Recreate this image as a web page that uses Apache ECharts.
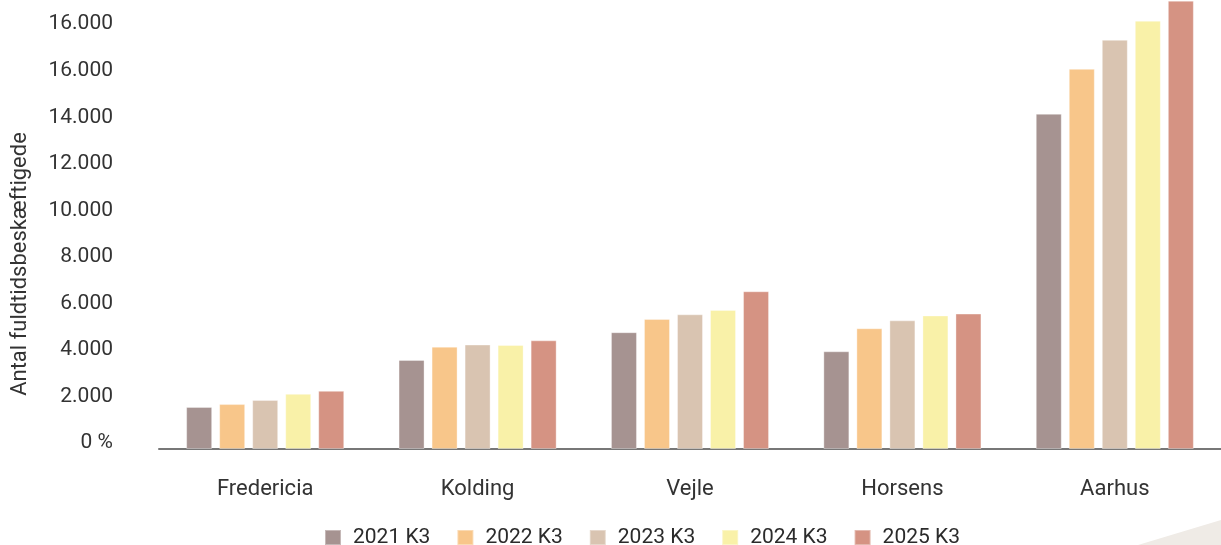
<!DOCTYPE html>
<html>
<head>
<meta charset="utf-8">
<script src="https://cdn.jsdelivr.net/npm/echarts@6/dist/echarts.min.js"></script>
<style>
  html, body { margin: 0; padding: 0; background: #fff; }
  #chart { width: 1221px; height: 545px; }
</style>
</head>
<body>
<div id="chart"></div>
<script>
// data
var byer = ['Fredericia', 'Kolding', 'Vejle', 'Horsens', 'Aarhus'];
var aar = ['2021 K3', '2022 K3', '2023 K3', '2024 K3', '2025 K3'];
var v2021 = [1810, 3830, 5020, 4200, 14410];
var v2022 = [1930, 4400, 5590, 5190, 16340];
var v2023 = [2110, 4490, 5790, 5530, 17590];
var v2024 = [2370, 4470, 5980, 5740, 18410];
var v2025 = [2500, 4670, 6780, 5820, 19270];
var yLabels = ['0 %', '2.000', '4.000', '6.000', '8.000', '10.000', '12.000', '14.000', '16.000', '16.000'];

var farver = ['#a69391', '#f8c68a', '#d9c4b1', '#f9f1a8', '#d59383'];
var serier = [v2021, v2022, v2023, v2024, v2025];

var chart = echarts.init(document.getElementById('chart'));

var font = 'Roboto';

option = {
    animation: false,
    color: farver,
    grid: {
        left: 159,
        right: -11,
        top: 0,
        bottom: 96
    },
    legend: {
        left: 319,
        top: 522,
        itemWidth: 16,
        itemHeight: 15,
        itemGap: 26,
        icon: 'rect',
        textStyle: { fontFamily: font, fontSize: 21, color: '#2b2b2b', padding: [0, 0, 0, 7] },
        data: aar
    },
    xAxis: {
        type: 'category',
        data: byer,
        axisLine: { lineStyle: { color: '#777', width: 2 } },
        axisTick: { show: false },
        axisLabel: { fontFamily: font, fontSize: 22, color: '#333', margin: 29 }
    },
    yAxis: {
        type: 'value',
        min: 0,
        max: 19300,
        interval: 2000,
        splitLine: { show: false },
        axisLine: { show: false },
        axisTick: { show: false },
        axisLabel: {
            fontFamily: font,
            fontSize: 21,
            color: '#333',
            margin: 46,
            verticalAlign: 'bottom',
            lineHeight: 12,
            showMaxLabel: false,
            formatter: function (val) {
                var i = Math.round(val / 2000);
                return (val % 2000 === 0 && yLabels[i] !== undefined) ? yLabels[i] : '';
            }
        }
    },
    graphic: [
        {
            type: 'text',
            x: 20,
            y: 264,
            rotation: Math.PI / 2,
            style: {
                text: 'Antal fuldtidsbeskæftigede',
                fontFamily: font,
                fontSize: 22,
                fill: '#333',
                align: 'center',
                verticalAlign: 'middle'
            }
        },
        {
            type: 'polygon',
            silent: true,
            z: -1,
            shape: { points: [[1138, 545], [1221, 520], [1221, 545]] },
            style: { fill: '#efebe6' }
        }
    ],
    series: serier.map(function (d, i) {
        return {
            name: aar[i],
            type: 'bar',
            data: d,
            barWidth: 26,
            barGap: '27%',
            itemStyle: { borderColor: 'rgba(255,255,255,0.35)', borderWidth: 1 }
        };
    })
};

chart.setOption(option);
</script>
</body>
</html>
